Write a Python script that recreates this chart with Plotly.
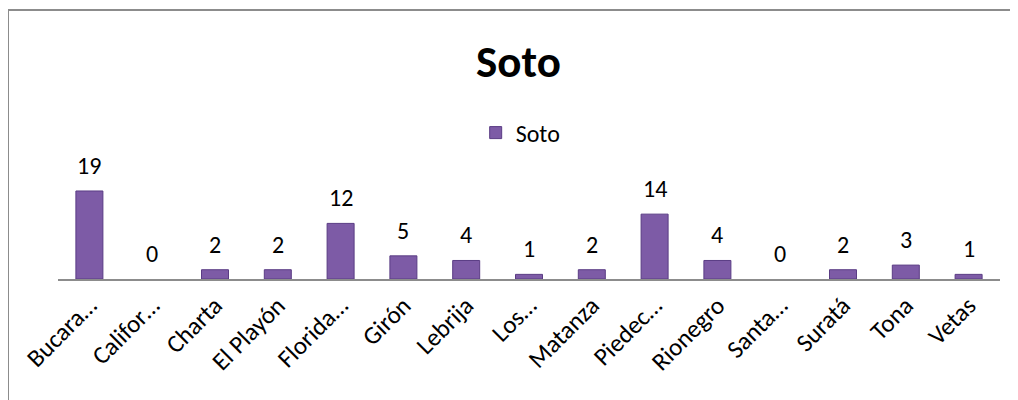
import plotly.graph_objects as go

municipios = ['Bucara…', 'Califor…', 'Charta', 'El Playón', 'Florida…', 'Girón', 'Lebrija',
              'Los…', 'Matanza', 'Piedec…', 'Rionegro', 'Santa…', 'Suratá', 'Tona', 'Vetas']
soto = [19, 0, 2, 2, 12, 5, 4, 1, 2, 14, 4, 0, 2, 3, 1]

fuente = "Calibri, Carlito, Lato, sans-serif"

fig = go.Figure(go.Bar(
    x=municipios, y=soto, name='Soto',
    marker=dict(color='#7d5ba6',
                line=dict(color='#5a3c84', width=[1 if v else 0 for v in soto])),
))

# etiquetas de datos, un poco más separadas de la barra que el texto 'outside'
fig.update_layout(annotations=[
    dict(x=m, y=v, xref='x', yref='y', text=str(v), showarrow=False, yanchor='bottom',
         yshift=9, font=dict(size=24, color='black', family=fuente))
    for m, v in zip(municipios, soto)
])

# the page adds an 8px body margin, so target positions are shifted by 8px
off = 8
pl, pr, pt, pb = 58 - off, 1000 - off, 140 - off, 279 - off
W, H = 1018, 400
px = lambda v: (v - off - pl) / (pr - pl)
py = lambda v: (pb - (v - off)) / (pb - pt)

fig.update_layout(
    width=W, height=H,
    margin=dict(l=pl, r=W - pr, t=pt, b=H - pb, autoexpand=False),
    plot_bgcolor='white', paper_bgcolor='white',
    font=dict(family=fuente, color='black'),
    title=dict(text='<b>Soto</b>', x=(518.5 - off) / W, xanchor='center', y=1 - (61 - off) / H,
               yanchor='middle', font=dict(size=45, family=fuente, color='black')),
    showlegend=True,
    legend=dict(orientation='h', x=(508 - off) / W, xanchor='center', y=1 - (133 - off) / H,
                yanchor='middle', yref='container', font=dict(size=24, family=fuente)),
    bargap=0.57,
    xaxis=dict(showline=True, linecolor='#8c8c8c', linewidth=2, ticks='', tickangle=-45,
               automargin=False,
               tickfont=dict(size=25, family=fuente, color='black'), showgrid=False),
    yaxis=dict(range=[0, 30], visible=False, showgrid=False, automargin=False),
    shapes=[
        dict(type='line', xref='paper', yref='paper', x0=px(8), x1=px(1030), y0=py(10), y1=py(10),
             line=dict(color='#8c8c8c', width=2)),
        dict(type='line', xref='paper', yref='paper', x0=px(8), x1=px(8), y0=py(10), y1=py(410),
             line=dict(color='#8c8c8c', width=2)),
    ],
)

fig.write_html("out.html")
